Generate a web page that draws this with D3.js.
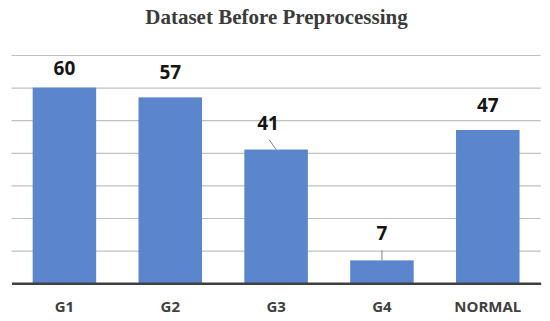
<!DOCTYPE html>
<html>
<head>
<meta charset="utf-8">
<script src="https://cdn.jsdelivr.net/npm/d3@7/dist/d3.min.js"></script>
<style>
  html, body { margin: 0; padding: 0; background: #ffffff; }
  svg { display: block; }
</style>
</head>
<body>
<svg id="chart" width="550" height="321"></svg>
<script>
// ---- data ----
const categories = ["G1", "G2", "G3", "G4", "NORMAL"];
const values = [60, 57, 41, 7, 47];
const yTicks = [0, 10, 20, 30, 40, 50, 60, 70];
const title = "Dataset Before Preprocessing";

// ---- label placement (offsets in px, not data) ----
const labelLayout = {
  G1:     { dx: 0,   dy: -13, leader: false },
  G2:     { dx: 0,   dy: -18, leader: false },
  G3:     { dx: -8,  dy: -20, leader: true },
  G4:     { dx: 0,   dy: -20, leader: true },
  NORMAL: { dx: 0,   dy: -18, leader: false }
};

const svg = d3.select("#chart");

const x = d3.scaleBand()
  .domain(categories)
  .range([11.5, 540.7])
  .paddingInner(0.4)
  .paddingOuter(0.2);

const y = d3.scaleLinear()
  .domain([0, 70])
  .range([283.2, 55]);

// title
svg.append("text")
  .attr("x", 276.5)
  .attr("y", 24)
  .attr("text-anchor", "middle")
  .attr("font-family", "'Liberation Serif', 'DejaVu Serif', serif")
  .attr("font-weight", "bold")
  .attr("font-size", 21)
  .attr("fill", "#3b3b3b")
  .text(title);

// gridlines
const gridAxis = d3.axisLeft(y)
  .tickValues(yTicks.filter(t => t > 0))
  .tickSize(-(540.7 - 11.5))
  .tickFormat("");
const g = svg.append("g")
  .attr("transform", "translate(11.5,0)")
  .call(gridAxis);
g.select(".domain").remove();
g.selectAll(".tick line")
  .attr("stroke", "#c0c0c0")
  .attr("stroke-width", 1.2);

// bars
svg.append("g")
  .selectAll("rect")
  .data(categories)
  .join("rect")
  .attr("x", d => x(d))
  .attr("width", x.bandwidth())
  .attr("y", (d, i) => y(values[i]))
  .attr("height", (d, i) => y(0) - y(values[i]))
  .attr("fill", "#5B85CC");

// baseline + category axis
const xAxis = d3.axisBottom(x).tickSize(0).tickPadding(18);
const ax = svg.append("g")
  .attr("transform", `translate(0,${y(0)})`)
  .call(xAxis);
ax.select(".domain")
  .attr("stroke", "#404040")
  .attr("stroke-width", 2.5);
ax.selectAll(".tick text")
  .attr("font-family", "'Open Sans', 'Noto Sans', sans-serif")
  .attr("font-weight", "bold")
  .attr("font-size", 15)
  .attr("fill", "#404040")
  .attr("dy", "0.71em");

// value labels
const lbl = svg.append("g");
categories.forEach((c, i) => {
  const L = labelLayout[c];
  const cx = x(c) + x.bandwidth() / 2;
  const top = y(values[i]);
  const tx = cx + L.dx;
  const ty = top + L.dy;
  if (L.leader) {
    lbl.append("line")
      .attr("x1", tx + (L.dx < 0 ? 1 : 0))
      .attr("y1", ty + 10)
      .attr("x2", cx)
      .attr("y2", top)
      .attr("stroke", "#7f7f7f")
      .attr("stroke-width", 1);
  }
  lbl.append("text")
    .attr("x", tx)
    .attr("y", ty)
    .attr("text-anchor", "middle")
    .attr("font-family", "'Open Sans', 'Noto Sans', sans-serif")
    .attr("font-weight", "bold")
    .attr("font-size", 19)
    .attr("fill", "#151515")
    .text(values[i]);
});
</script>
</body>
</html>
